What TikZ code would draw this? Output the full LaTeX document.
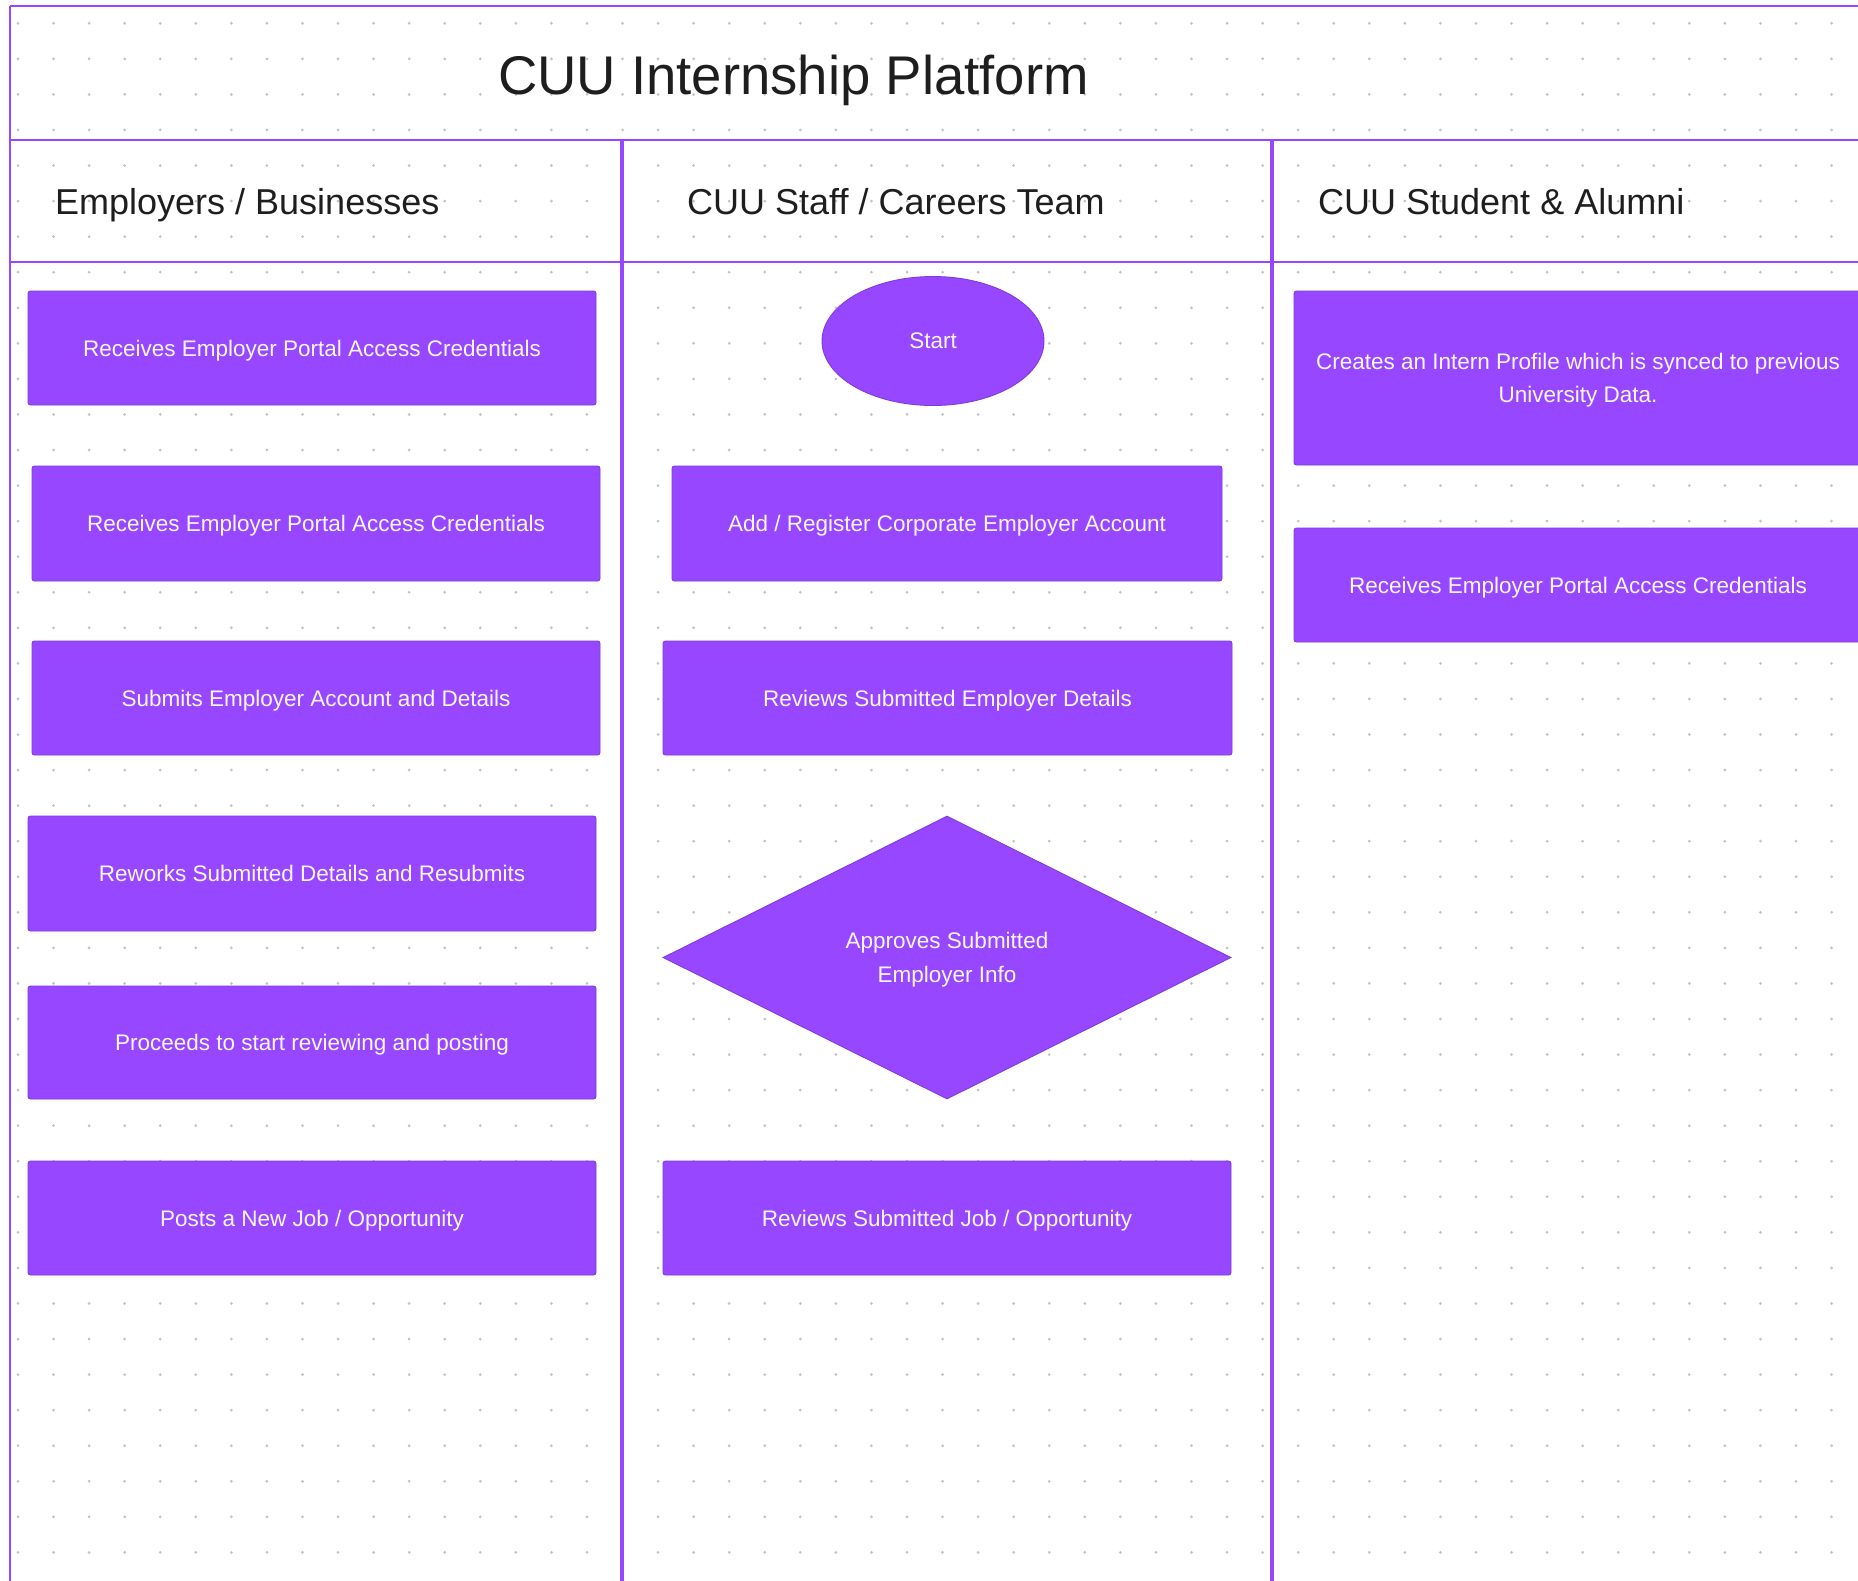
\documentclass[tikz,border=0pt]{standalone}
\usepackage{fontspec}
\setmainfont{Liberation Sans}
\usetikzlibrary{shapes.geometric}
\definecolor{fig}{HTML}{9747FF}
\definecolor{figline}{HTML}{9747FF}
\definecolor{boxedge}{HTML}{7F3CDB}
\definecolor{dotc}{HTML}{C2C2C2}
\definecolor{ink}{HTML}{1E1E1E}
\definecolor{boxtxt}{HTML}{FBF7FF}
\begin{document}
\begin{tikzpicture}[x=1pt,y=-1pt,
  shapebase/.style={fill=fig, draw=boxedge, line width=0.9pt, text=boxtxt,
    font=\fontsize{22.5}{33.5}\selectfont, align=center, inner sep=0pt, text depth=0pt},
  stepbox/.style={shapebase, rectangle, rounded corners=2.5pt, minimum width=568, minimum height=114},
  startbox/.style={shapebase, ellipse, minimum width=222, minimum height=129},
  decbox/.style={shapebase, diamond, minimum width=568, minimum height=283},
  lane/.style={draw=figline, line width=2.2pt},
  divider/.style={draw=figline, line width=3.5pt},
  lanehead/.style={anchor=base west, text=ink, inner sep=0pt, font=\fontsize{36}{40}\selectfont},
  titletext/.style={anchor=base, text=ink, inner sep=0pt, font=\fontsize{54.5}{60}\selectfont}
]
\useasboundingbox (0,0) rectangle (1858,1580);
\clip (0,0) rectangle (1858,1580);
\fill[white] (0,0) rectangle (1858,1580);
% dot grid
\foreach \i in {0,...,51}{
  \foreach \j in {0,...,43}{
    \fill[dotc] (18+35.56*\i, 23.3+35.56*\j) circle (1.5pt);
  }
}
% frame
\draw[lane] (10,6) -- (1870,6);
\draw[lane] (10,140) -- (1870,140);
\draw[lane] (10,262) -- (1870,262);
\draw[lane] (10,6) -- (10,1590);
\draw[divider] (622,140) -- (622,1590);
\draw[divider] (1272,140) -- (1272,1590);
% titles
\node[titletext] (title) at (793.5,94) {CUU Internship Platform};
\node[lanehead] (h1) at (55,214) {Employers / Businesses};
\node[lanehead] (h2) at (687,214) {CUU Staff / Careers Team};
\node[lanehead] (h3) at (1318,214) {CUU Student \& Alumni};
% employers lane
\node[stepbox] (e1) at (312,348) {Receives Employer Portal Access Credentials};
\node[stepbox, minimum height=115] (e2) at (316,523.5) {Receives Employer Portal Access Credentials};
\node[stepbox] (e3) at (316,698) {Submits Employer Account and Details};
\node[stepbox, minimum height=115] (e4) at (312,873.5) {Reworks Submitted Details and Resubmits};
\node[stepbox, minimum height=113] (e5) at (312,1042.5) {Proceeds to start reviewing and posting};
\node[stepbox] (e6) at (312,1218) {Posts a New Job / Opportunity};
% staff lane
\node[startbox] (s0) at (933,341) {Start};
\node[stepbox, minimum width=550, minimum height=115] (s1) at (947,523.5) {Add / Register Corporate Employer Account};
\node[stepbox, minimum width=569] (s2) at (947.5,698) {Reviews Submitted Employer Details};
\node[decbox] (s3) at (947,957.5) {Approves Submitted\\Employer Info};
\node[stepbox] (s4) at (947,1218) {Reviews Submitted Job / Opportunity};
% student lane
\node[stepbox, minimum height=174] (u1) at (1578,378) {Creates an Intern Profile which is synced to previous\\University Data.};
\node[stepbox] (u2) at (1578,585) {Receives Employer Portal Access Credentials};
\end{tikzpicture}
\end{document}
